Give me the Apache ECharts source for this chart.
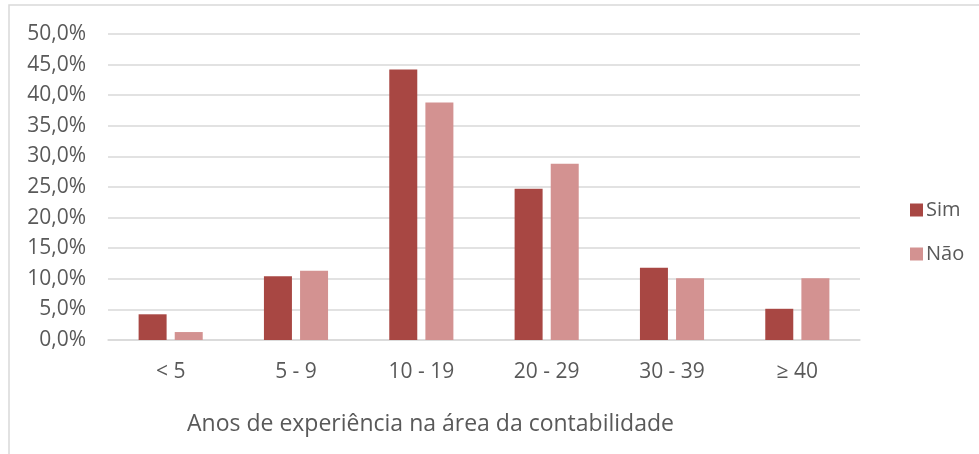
<!DOCTYPE html>
<html>
<head>
<meta charset="utf-8">
<script src="https://cdn.jsdelivr.net/npm/echarts@6/dist/echarts.min.js"></script>
<style>
html,body{margin:0;padding:0;background:#fff;}
#main{width:979px;height:454px;}
</style>
</head>
<body>
<div id="main"></div>
<script>
const categories = ['< 5', '5 - 9', '10 - 19', '20 - 29', '30 - 39', '≥ 40'];
const simValues = [4.2, 10.4, 44.2, 24.7, 11.8, 5.1];
const naoValues = [1.3, 11.3, 38.8, 28.8, 10.1, 10.1];
const seriesNames = ['Sim', 'Não'];
const xAxisTitle = 'Anos de experiência na área da contabilidade';

const font = '"Open Sans", "Noto Sans", sans-serif';
const textColor = '#595959';

const chart = echarts.init(document.getElementById('main'), null, {renderer: 'canvas'});
chart.setOption({
  animation: false,
  backgroundColor: '#fff',
  grid: {left: 108, right: 119, top: 34, bottom: 114, containLabel: false},
  legend: {
    orient: 'vertical',
    left: 905,
    top: 195,
    itemWidth: 13,
    itemHeight: 13,
    itemGap: 24,
    icon: 'rect',
    textStyle: {fontFamily: font, fontSize: 20, color: textColor, lineHeight: 20, padding: [0,0,0,-2]},
    data: seriesNames
  },
  xAxis: {
    type: 'category',
    data: categories,
    axisLine: {show: true, lineStyle: {color: '#D9D9D9', width: 1.5}},
    axisTick: {show: false},
    axisLabel: {fontFamily: font, fontSize: 21, color: textColor, margin: 22}
  },
  yAxis: {
    type: 'value',
    min: 0, max: 50, interval: 5,
    axisLine: {show: false},
    axisTick: {show: false},
    splitLine: {lineStyle: {color: '#D9D9D9', width: 1.5}},
    axisLabel: {
      fontFamily: font, fontSize: 21, color: textColor, margin: 22,
      formatter: v => v.toFixed(1).replace('.', ',') + '%'
    }
  },
  graphic: [
    {type: 'rect', shape: {x: 9, y: 5, width: 1000, height: 500}, style: {fill: 'none', stroke: '#D9D9D9', lineWidth: 1.5}, silent: true, z: -1},
    {type: 'text', left: 187, top: 413, style: {text: xAxisTitle, font: '23px "Open Sans", "Noto Sans", sans-serif', fill: textColor}}
  ],
  series: [
    {name: seriesNames[0], type: 'bar', data: simValues, barWidth: 28, barGap: '29%',
     itemStyle: {color: '#A84743'}},
    {name: seriesNames[1], type: 'bar', data: naoValues, barWidth: 28, barGap: '29%',
     itemStyle: {color: '#D39291'}}
  ]
});
</script>
</body>
</html>
